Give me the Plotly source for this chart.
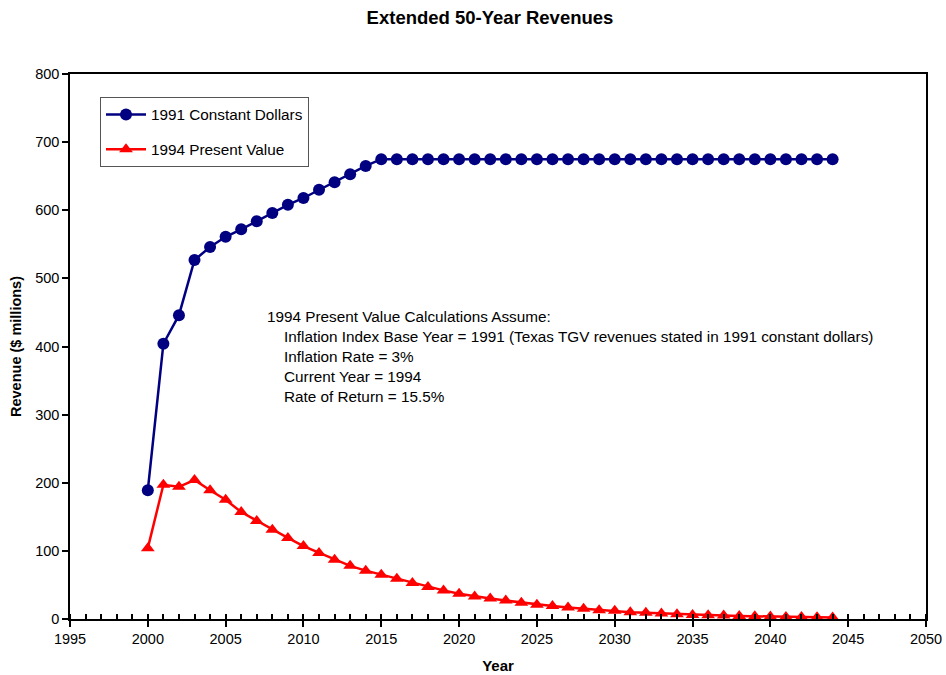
import plotly.graph_objects as go

years = list(range(2000, 2045))
constant_1991 = [189, 404, 446, 527, 546, 561, 572, 584, 596, 608, 618, 630, 641, 653, 665] + [675] * 30
present_1994 = [104, 197, 194, 204, 189, 175, 157, 144, 131, 119, 107, 97, 87, 78, 71,
                65, 59, 53, 47, 42, 37, 33, 30, 27, 24, 21, 19, 17, 15, 13,
                12, 10, 9, 8, 7, 6, 5.5, 5, 4.4, 4, 3.5, 3.1, 2.8, 2.5, 2.2]

note_lines = [
    "1994 Present Value Calculations Assume:",
    "Inflation Index Base Year = 1991 (Texas TGV revenues stated in 1991 constant dollars)",
    "Inflation Rate = 3%",
    "Current Year = 1994",
    "Rate of Return = 15.5%",
]

font = "Liberation Sans, Arial, sans-serif"

fig = go.Figure()
fig.add_trace(go.Scatter(
    x=years, y=constant_1991, mode="lines+markers", name="1991 Constant Dollars",
    legendgroup="a",
    line=dict(color="#000080", width=2.5),
    marker=dict(symbol="circle", size=12, color="#000080")))
fig.add_trace(go.Scatter(
    x=years, y=present_1994, mode="lines+markers", name="1994 Present Value",
    legendgroup="b",
    line=dict(color="#ff0000", width=2.5),
    marker=dict(symbol="triangle-up", size=12, color="#ff0000")))

note = note_lines[0] + "<br>" + "<br>".join("\u00a0\u00a0\u00a0\u00a0" + s for s in note_lines[1:])
fig.add_annotation(
    x=(265 - 70) / 856, y=(619 - 306) / 545, xref="paper", yref="paper",
    xanchor="left", yanchor="top", align="left", showarrow=False,
    text=note, font=dict(size=15.3, color="black", family=font))

fig.update_layout(
    width=946, height=675,
    margin=dict(l=70, r=20, t=74, b=56),
    paper_bgcolor="white", plot_bgcolor="white",
    font=dict(family=font, color="black", size=14.5),
    title=dict(text="<b>Extended 50-Year Revenues</b>", x=490 / 946, xanchor="center",
               y=1 - 18 / 675, yanchor="middle", font=dict(size=18.5)),
    showlegend=True,
    legend=dict(x=(100 - 70) / 856, y=(619 - 97) / 545, xanchor="left", yanchor="top",
                bordercolor="#555555", borderwidth=1, bgcolor="white",
                font=dict(size=15.3), itemwidth=40, tracegroupgap=12),
    xaxis=dict(range=[1995, 2050], dtick=5, tick0=1995, showgrid=False, zeroline=False,
               automargin=False,
               showline=True, linecolor="black", linewidth=1.5, mirror=True,
               ticks="outside", ticklen=6, tickwidth=1.5, tickcolor="black",
               minor=dict(dtick=1, ticks="inside", ticklen=5, tickcolor="black", showgrid=False),
               title=dict(text="<b>Year</b>", font=dict(size=15), standoff=14)),
    yaxis=dict(range=[0, 800], dtick=100, showgrid=False, zeroline=False,
               automargin=False,
               showline=True, linecolor="black", linewidth=1.5, mirror=True,
               ticks="outside", ticklen=6, tickwidth=1.5, tickcolor="black",
               title=dict(text="<b>Revenue ($ millions)</b>", font=dict(size=14.5), standoff=10)),
)

# drop the browser's default body margin so the figure fills the window exactly
fig.write_html("out.html", config={"displayModeBar": False},
               post_script="document.body.style.margin='0';document.body.style.overflow='hidden';")
